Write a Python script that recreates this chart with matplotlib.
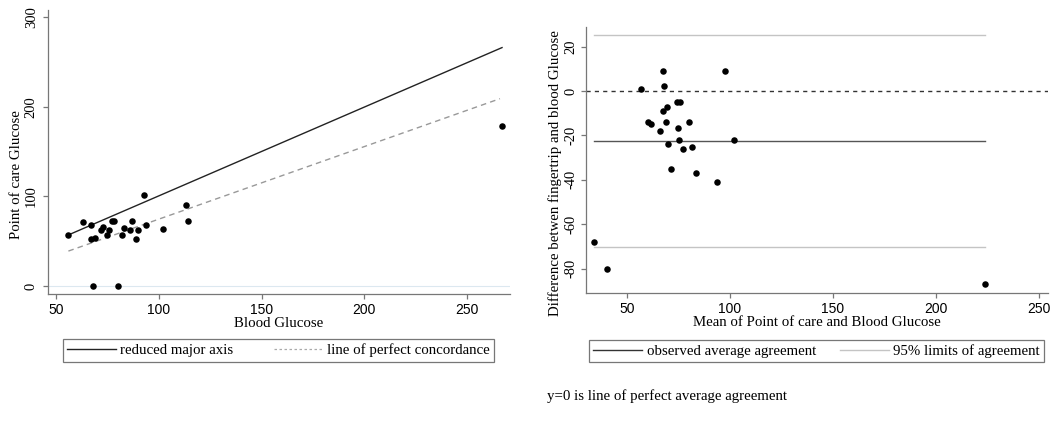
import numpy as np
import matplotlib.pyplot as plt
from matplotlib.lines import Line2D

# left panel: blood glucose vs point of care glucose
blood = [56, 63, 67, 67, 69, 68, 72, 73, 75, 76, 77, 78, 80, 82, 83, 86, 87, 89, 90,
         93, 94, 102, 113, 114, 267]
poc = [57, 71, 68, 52, 54, 0, 63, 66, 57, 62, 72, 73, 0, 57, 65, 63, 72, 53, 63,
       101, 68, 64, 90, 72, 179]
rma_x = [56, 267]
rma_y = [57, 266]
conc_x = [56, 266]
conc_y = [39, 209]

# right panel: Bland-Altman
ba_mean = [34.0, 40.1, 56.6, 67.4, 67.9, 60.0, 61.6, 66.0, 67.4, 69.5, 69.0, 70.0, 71.6,
           74.4, 75.7, 74.6, 75.2, 77.0, 80.0, 81.7, 83.6, 93.5, 97.5, 102.0, 223.7]
ba_diff = [-68.1, -80.1, 1.0, 9.0, 2.1, -14.1, -15.0, -18.0, -9.0, -7.0, -14.1, -24.0, -35.1,
           -4.9, -4.9, -16.8, -21.9, -25.9, -14.1, -25.0, -36.9, -40.9, 9.0, -21.9, -87.0]
avg_agree = -22.5
lim_upper = 25.2
lim_lower = -70.3

xticks = [50, 100, 150, 200, 250]

serif = 'Liberation Serif'
sans = 'Liberation Sans'
plt.rcParams['font.family'] = serif
plt.rcParams['axes.unicode_minus'] = False
axcol = '#777777'
fs = 10.7

fig = plt.figure(figsize=(10.56, 4.25), dpi=100)
ax1 = fig.add_axes([0.0455, 0.3082, 0.4375, 0.668])
ax2 = fig.add_axes([0.5549, 0.3106, 0.4375, 0.626])


def style(ax, tick_mark_col, ypad):
    for s in ['top', 'right']:
        ax.spines[s].set_visible(False)
    for s in ['left', 'bottom']:
        ax.spines[s].set_color(axcol)
        ax.spines[s].set_linewidth(0.9)
    ax.tick_params(direction='out', length=3.8, width=0.9, color=axcol)
    ax.tick_params(axis='x', pad=2.5)
    ax.tick_params(axis='y', pad=ypad)
    ax.set_xticks(xticks)
    ax.set_xticklabels([str(t) for t in xticks], family=sans, fontsize=10)
    for lab in ax.get_yticklabels():
        lab.set_rotation(90)
        lab.set_va('center')
        lab.set_fontsize(10.5)
        lab.set_family(serif)
    # odd coloured tick at 250
    ax.get_xticklines()[-2].set_color(tick_mark_col)


# ---- left panel
ax1.axhline(0, color='#dce8f0', lw=0.8, zorder=0)
ax1.plot(rma_x, rma_y, color='#222222', lw=1.0)
ax1.plot(conc_x, conc_y, color='#999999', lw=1.0, ls=(0, (4, 3)))
ax1.scatter(blood, poc, s=22, color='black', zorder=3, linewidths=0)
ax1.set_xlim(46.1, 270.9)
ax1.set_ylim(-8.9, 307.8)
ax1.set_yticks([0, 100, 200, 300])
style(ax1, '#cc3333', 3.6)
ax1.set_xlabel('Blood Glucose', fontsize=fs, labelpad=0)
ax1.set_ylabel('Point of care Glucose', fontsize=fs)
ax1.yaxis.set_label_coords(-0.054, 0.42)

# ---- right panel
ax2.axhline(0, color='#333333', lw=1.0, ls=(0, (3, 3)))
ax2.plot([min(ba_mean), max(ba_mean)], [avg_agree, avg_agree], color='#555555', lw=1.0)
ax2.plot([min(ba_mean), max(ba_mean)], [lim_upper, lim_upper], color='#c4c4c4', lw=1.0)
ax2.plot([min(ba_mean), max(ba_mean)], [lim_lower, lim_lower], color='#c4c4c4', lw=1.0)
ax2.scatter(ba_mean, ba_diff, s=22, color='black', zorder=3, linewidths=0)
ax2.set_xlim(30.1, 254.4)
ax2.set_ylim(-91, 28.9)
ax2.set_yticks([-80, -60, -40, -20, 0, 20])
style(ax2, '#aa44aa', 2.4)
ax2.set_xlabel('Mean of Point of care and Blood Glucose', fontsize=fs, labelpad=0)
ax2.set_ylabel('Difference betwen fingertrip and blood Glucose', fontsize=fs)
ax2.yaxis.set_label_coords(-0.052, 0.45)

# ---- legends
legkw = dict(ncol=2, loc='center', fontsize=fs, fancybox=False, framealpha=1,
             edgecolor='#777777', handlelength=3.3, handletextpad=0.3,
             borderpad=0.3, borderaxespad=0)
h1 = [Line2D([], [], color='#222222', lw=1.0),
      Line2D([], [], color='#aaaaaa', lw=0.9, ls=(0, (2, 2)))]
leg1 = fig.legend(h1, ['reduced major axis', 'line of perfect concordance'],
                  bbox_to_anchor=(0.2637, 0.1753), columnspacing=2.7, **legkw)
leg1.get_frame().set_linewidth(0.9)

h2 = [Line2D([], [], color='#333333', lw=1.0),
      Line2D([], [], color='#c4c4c4', lw=1.0)]
leg2 = fig.legend(h2, ['observed average agreement', '95% limits of agreement'],
                  bbox_to_anchor=(0.7732, 0.174), columnspacing=1.6, **legkw)
leg2.get_frame().set_linewidth(0.9)

fig.text(0.518, 0.068, 'y=0 is line of perfect average agreement', fontsize=fs,
         ha='left', va='center')

fig.savefig('out.png', dpi=100)
